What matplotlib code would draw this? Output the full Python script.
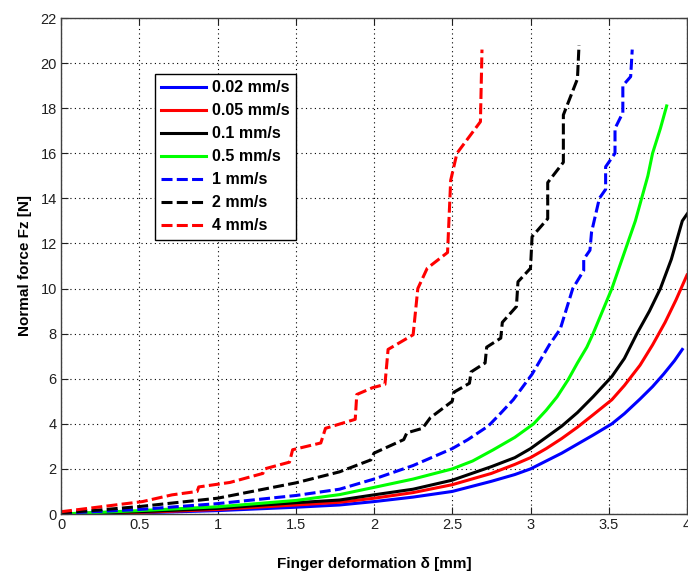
import matplotlib
matplotlib.use('Agg')
import matplotlib.pyplot as plt

# Datos: deformacion del dedo [mm] y fuerza normal [N].

x_002 = [0, 0.5, 1.0, 1.5, 1.78, 2.0, 2.25, 2.5, 2.75, 2.9, 3.0, 3.1, 3.2, 3.3, 3.4,
         3.52, 3.6, 3.7, 3.78, 3.85, 3.92, 3.97]
y_002 = [0, 0.05, 0.15, 0.3, 0.4, 0.55, 0.75, 1.0, 1.45, 1.75, 2.0, 2.35, 2.7, 3.1, 3.5,
         4.0, 4.45, 5.1, 5.65, 6.2, 6.8, 7.3]

x_005 = [0, 0.5, 1.0, 1.5, 1.78, 2.0, 2.25, 2.5, 2.75, 2.9, 3.0, 3.1, 3.2, 3.3, 3.4,
         3.52, 3.6, 3.7, 3.78, 3.86, 3.93, 4.0]
y_005 = [0, 0.07, 0.2, 0.4, 0.52, 0.7, 0.95, 1.3, 1.8, 2.2, 2.5, 2.9, 3.35, 3.85, 4.4,
         5.07, 5.7, 6.6, 7.5, 8.5, 9.5, 10.6]

x_01 = [0, 0.5, 1.0, 1.5, 1.78, 2.0, 2.25, 2.5, 2.75, 2.9, 3.0, 3.1, 3.2, 3.3, 3.4,
        3.52, 3.6, 3.68, 3.76, 3.83, 3.9, 3.97, 4.0]
y_01 = [0, 0.1, 0.25, 0.5, 0.62, 0.85, 1.1, 1.5, 2.1, 2.5, 2.9, 3.4, 3.9, 4.5, 5.2,
        6.1, 6.9, 8.0, 9.0, 10.0, 11.3, 13.0, 13.3]

x_05 = [0, 0.5, 1.0, 1.5, 1.78, 2.0, 2.25, 2.5, 2.63, 2.76, 2.9, 3.02, 3.1, 3.17, 3.24,
        3.3, 3.36, 3.4, 3.46, 3.52, 3.57, 3.62, 3.67, 3.71, 3.75, 3.78, 3.83, 3.87]
y_05 = [0, 0.15, 0.32, 0.6, 0.86, 1.18, 1.55, 2.0, 2.35, 2.84, 3.4, 4.0, 4.6, 5.2, 5.95,
        6.7, 7.4, 8.0, 9.0, 10.0, 11.0, 12.0, 13.0, 14.0, 15.0, 16.0, 17.1, 18.1]

x_1 = [0, 0.5, 1.0, 1.5, 1.78, 2.0, 2.25, 2.5, 2.6, 2.73, 2.8, 2.89, 3.01, 3.12, 3.19, 3.27,
       3.34, 3.34, 3.38, 3.39, 3.44, 3.48, 3.48, 3.54, 3.54, 3.59, 3.59, 3.64, 3.65]
y_1 = [0.03, 0.2, 0.46, 0.82, 1.1, 1.55, 2.15, 2.9, 3.3, 3.9, 4.4, 5.07, 6.2, 7.5, 8.2, 10.0,
       10.8, 11.3, 11.7, 12.5, 14.0, 14.4, 15.4, 16.0, 17.1, 17.8, 19.0, 19.4, 20.6]

x_2 = [0, 0.25, 0.5, 1.0, 1.5, 1.78, 1.98, 2.0, 2.19, 2.21, 2.31, 2.36, 2.5, 2.51,
       2.61, 2.62, 2.71, 2.72, 2.81, 2.82, 2.91, 2.92, 3.0, 3.01, 3.11, 3.11,
       3.21, 3.21, 3.30, 3.31]
y_2 = [0.05, 0.18, 0.33, 0.7, 1.38, 1.87, 2.4, 2.7, 3.3, 3.6, 3.8, 4.27, 5.0, 5.4,
       5.8, 6.3, 6.7, 7.4, 7.8, 8.5, 9.2, 10.3, 10.9, 12.3, 13.1, 14.7,
       15.6, 17.7, 19.3, 20.8]

x_4 = [0, 0.52, 0.71, 0.87, 0.88, 1.08, 1.29, 1.30, 1.46, 1.48, 1.66, 1.69, 1.88,
       1.89, 1.99, 2.07, 2.09, 2.25, 2.28, 2.34, 2.47, 2.49, 2.53, 2.68, 2.69]
y_4 = [0.1, 0.55, 0.85, 1.0, 1.2, 1.4, 1.8, 2.0, 2.3, 2.85, 3.15, 3.8, 4.2,
       5.3, 5.6, 5.75, 7.3, 7.95, 10.0, 10.9, 11.6, 14.8, 16.0, 17.4, 20.6]

etiquetas = ['0.02 mm/s', '0.05 mm/s', '0.1 mm/s', '0.5 mm/s', '1 mm/s', '2 mm/s', '4 mm/s']

plt.rcParams['font.family'] = ['Liberation Sans', 'DejaVu Sans']

fig = plt.figure(figsize=(6.88, 5.71), dpi=100)
ax = fig.add_axes([61 / 688, 57 / 571, 626 / 688, 496 / 571])

guion = (3.6, 1.4)
ax.plot(x_002, y_002, color=(0, 0, 1), lw=2.2, label=etiquetas[0])
ax.plot(x_005, y_005, color=(1, 0, 0), lw=2.2, label=etiquetas[1])
ax.plot(x_01, y_01, color='k', lw=2.2, label=etiquetas[2])
ax.plot(x_05, y_05, color=(0, 1, 0), lw=2.2, label=etiquetas[3])
ax.plot(x_1, y_1, color=(0, 0, 1), lw=2.2, dashes=guion, label=etiquetas[4])
ax.plot(x_2, y_2, color='k', lw=2.2, dashes=guion, label=etiquetas[5])
ax.plot(x_4, y_4, color=(1, 0, 0), lw=2.2, dashes=guion, label=etiquetas[6])

ax.set_xlim(0, 4)
ax.set_ylim(0, 22)
ax.set_xticks([0, 0.5, 1, 1.5, 2, 2.5, 3, 3.5, 4])
ax.set_xticklabels(['0', '0.5', '1', '1.5', '2', '2.5', '3', '3.5', '4'])
ax.set_yticks(range(0, 23, 2))

ax.grid(True, color='k', linestyle=(0, (1, 3)), linewidth=0.8)
ax.tick_params(direction='in', top=True, right=True, length=5, width=0.8,
               labelsize=10.5, colors='#202020', pad=3)
for s in ax.spines.values():
    s.set_color('#404040')
    s.set_linewidth(1.0)

ax.set_xlabel('Finger deformation δ [mm]', fontsize=11, fontweight='bold', labelpad=18)
ax.set_ylabel('Normal force Fz [N]', fontsize=11, fontweight='bold', labelpad=6)

leg = ax.legend(loc='upper left', bbox_to_anchor=(0.150, 0.887), borderaxespad=0,
                fancybox=False, edgecolor='k', framealpha=1,
                prop={'weight': 'bold', 'size': 11.5}, handlelength=2.8,
                handletextpad=0.35, labelspacing=0.5, borderpad=0.4)
leg.get_frame().set_linewidth(1.0)

fig.savefig('out.png', dpi=100)
